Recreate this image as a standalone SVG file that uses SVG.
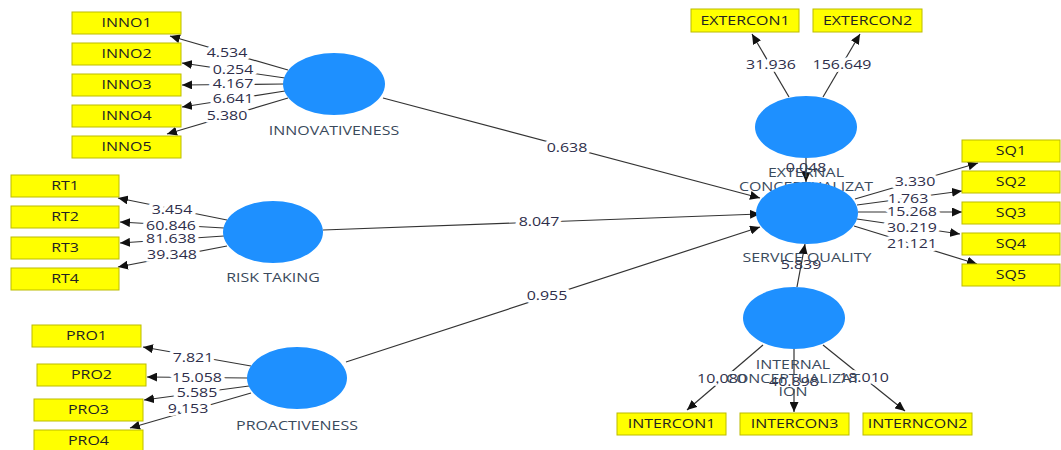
<svg xmlns="http://www.w3.org/2000/svg" width="1061" height="450" viewBox="0 0 1061 450">
<style>
  .ln{stroke:#333;stroke-width:1.2;fill:none;marker-end:url(#ah)}
  .num{font-family:"Open Sans","Liberation Sans",sans-serif;font-size:12px;fill:#2e2e4a;text-anchor:middle;stroke:#fff;stroke-width:6;paint-order:stroke;stroke-linejoin:round}
  .num.clear{stroke:none}
  .lat{fill:#1e90ff}
  .lbl{font-family:"Open Sans","Liberation Sans",sans-serif;font-size:12px;fill:#3a4a5c;text-anchor:middle}
  .box{fill:#ffff00;stroke:#bcbc00;stroke-width:1}
  .btx{font-family:"Open Sans","Liberation Sans",sans-serif;font-size:12px;fill:#222;text-anchor:middle}
</style>
<defs>
  <marker id="ah" viewBox="0 0 10 9" refX="10" refY="4.5" markerWidth="10" markerHeight="9" markerUnits="userSpaceOnUse" orient="auto">
    <path d="M0,0 L10,4.5 L0,9 z" fill="#111"/>
  </marker>
</defs>
<rect width="1061" height="450" fill="#fff"/>

<g id="connectors">
  <path class="ln" d="M288,70 L170,36"/>
  <path class="ln" d="M285,78 L182,63"/>
  <path class="ln" d="M284,84 L182,85"/>
  <path class="ln" d="M285,91 L182,107"/>
  <path class="ln" d="M288,98 L167,134"/>
  <path class="ln" d="M227,220 L118,198"/>
  <path class="ln" d="M224,228 L120,222"/>
  <path class="ln" d="M224,236 L120,243"/>
  <path class="ln" d="M227,246 L118,267"/>
  <path class="ln" d="M251,366 L143,347"/>
  <path class="ln" d="M248,378 L147,377"/>
  <path class="ln" d="M249,386 L144,400"/>
  <path class="ln" d="M251,393 L130,428"/>
  <path class="ln" d="M789,97 L752,34"/>
  <path class="ln" d="M823,97 L860,34"/>
  <path class="ln" d="M855,199 L978,163"/>
  <path class="ln" d="M857,205 L962,191"/>
  <path class="ln" d="M858,212 L962,212"/>
  <path class="ln" d="M857,219 L960,234"/>
  <path class="ln" d="M854,226 L977,264"/>
  <path class="ln" d="M763,345 L687,410"/>
  <path class="ln" d="M794,349 L794,412"/>
  <path class="ln" d="M823,345 L905,411"/>
  <path class="ln" d="M383,98 L760,198"/>
  <path class="ln" d="M323,230 L760,214"/>
  <path class="ln" d="M346,362 L760,227"/>

  <text class="num" transform="translate(227,57) scale(1.33,1)">4.534</text>
  <text class="num" transform="translate(233,74) scale(1.33,1)">0.254</text>
  <text class="num" transform="translate(233,88) scale(1.33,1)">4.167</text>
  <text class="num" transform="translate(233,103) scale(1.33,1)">6.641</text>
  <text class="num" transform="translate(227,120) scale(1.33,1)">5.380</text>
  <text class="num" transform="translate(172,214) scale(1.33,1)">3.454</text>
  <text class="num" transform="translate(171,230) scale(1.33,1)">60.846</text>
  <text class="num" transform="translate(171,243) scale(1.33,1)">81.638</text>
  <text class="num" transform="translate(172,259) scale(1.33,1)">39.348</text>
  <text class="num" transform="translate(193,362) scale(1.33,1)">7.821</text>
  <text class="num" transform="translate(197,382) scale(1.33,1)">15.058</text>
  <text class="num" transform="translate(197,397) scale(1.33,1)">5.585</text>
  <text class="num" transform="translate(188,413) scale(1.33,1)">9.153</text>
  <text class="num" transform="translate(771,69) scale(1.33,1)">31.936</text>
  <text class="num" transform="translate(842,69) scale(1.33,1)">156.649</text>
  <text class="num" transform="translate(915,186) scale(1.33,1)">3.330</text>
  <text class="num" transform="translate(908,203) scale(1.33,1)">1.763</text>
  <text class="num" transform="translate(912,216) scale(1.33,1)">15.268</text>
  <text class="num" transform="translate(912,232) scale(1.33,1)">30.219</text>
  <text class="num" transform="translate(912,248) scale(1.33,1)">21.121</text>
  <text class="num" transform="translate(722,383) scale(1.33,1)">10.080</text>
  <text class="num" transform="translate(794,386) scale(1.33,1)">40.898</text>
  <text class="num" transform="translate(864,382) scale(1.33,1)">18.010</text>
  <text class="num" transform="translate(567,152) scale(1.33,1)">0.638</text>
  <text class="num" transform="translate(539,226) scale(1.33,1)">8.047</text>
  <text class="num" transform="translate(547,300) scale(1.33,1)">0.955</text>
  <text class="num clear" transform="translate(806,172) scale(1.33,1)">0.048</text>
  <text class="num clear" transform="translate(801,269) scale(1.33,1)">5.839</text>
  <path class="ln" d="M806,158 L806,182"/>
  <path class="ln" d="M797,287 L805,244"/>
</g>

<g id="innovativeness">
  <ellipse class="lat" cx="334" cy="84" rx="51" ry="31"/>
  <text class="lbl" transform="translate(334,135) scale(1.33,1)">INNOVATIVENESS</text>
</g>
<g id="risk-taking">
  <ellipse class="lat" cx="273" cy="232" rx="50" ry="31"/>
  <text class="lbl" transform="translate(273,282) scale(1.33,1)">RISK TAKING</text>
</g>
<g id="proactiveness">
  <ellipse class="lat" cx="297" cy="378" rx="50" ry="31"/>
  <text class="lbl" transform="translate(297,430) scale(1.33,1)">PROACTIVENESS</text>
</g>
<g id="external-conceptualization">
  <ellipse class="lat" cx="806" cy="127" rx="51" ry="31"/>
  <text class="lbl" transform="translate(806,177) scale(1.33,1)">EXTERNAL</text>
  <text class="lbl" transform="translate(806,191) scale(1.33,1)">CONCEPTUALIZAT</text>
</g>
<g id="service-quality">
  <ellipse class="lat" cx="807" cy="213" rx="51" ry="31"/>
  <text class="lbl" transform="translate(807,262) scale(1.33,1)">SERVICE QUALITY</text>
</g>
<g id="internal-conceptualization">
  <ellipse class="lat" cx="794" cy="318" rx="51" ry="31"/>
  <text class="lbl" transform="translate(793,369) scale(1.33,1)">INTERNAL</text>
  <text class="lbl" transform="translate(793,383) scale(1.33,1)">CONCEPTUALIZAT</text>
  <text class="lbl" transform="translate(793,396) scale(1.33,1)">ION</text>
</g>

<g id="INNO1"><rect class="box" x="72" y="12" width="109" height="22"/><text class="btx" transform="translate(126.5,27.3) scale(1.33,1)">INNO1</text></g>
<g id="INNO2"><rect class="box" x="72" y="43" width="109" height="22"/><text class="btx" transform="translate(126.5,58.3) scale(1.33,1)">INNO2</text></g>
<g id="INNO3"><rect class="box" x="72" y="74" width="109" height="22"/><text class="btx" transform="translate(126.5,89.3) scale(1.33,1)">INNO3</text></g>
<g id="INNO4"><rect class="box" x="72" y="105" width="109" height="22"/><text class="btx" transform="translate(126.5,120.3) scale(1.33,1)">INNO4</text></g>
<g id="INNO5"><rect class="box" x="72" y="136" width="109" height="22"/><text class="btx" transform="translate(126.5,151.3) scale(1.33,1)">INNO5</text></g>

<g id="RT1"><rect class="box" x="11" y="175" width="108" height="22"/><text class="btx" transform="translate(65,190.3) scale(1.33,1)">RT1</text></g>
<g id="RT2"><rect class="box" x="11" y="206" width="108" height="22"/><text class="btx" transform="translate(65,221.3) scale(1.33,1)">RT2</text></g>
<g id="RT3"><rect class="box" x="11" y="237" width="108" height="22"/><text class="btx" transform="translate(65,252.3) scale(1.33,1)">RT3</text></g>
<g id="RT4"><rect class="box" x="11" y="268" width="108" height="22"/><text class="btx" transform="translate(65,283.3) scale(1.33,1)">RT4</text></g>

<g id="PRO1"><rect class="box" x="32" y="325" width="109" height="22"/><text class="btx" transform="translate(86.5,340.3) scale(1.33,1)">PRO1</text></g>
<g id="PRO2"><rect class="box" x="37" y="364" width="109" height="22"/><text class="btx" transform="translate(91.5,379.3) scale(1.33,1)">PRO2</text></g>
<g id="PRO3"><rect class="box" x="34" y="399" width="109" height="22"/><text class="btx" transform="translate(88.5,414.3) scale(1.33,1)">PRO3</text></g>
<g id="PRO4"><rect class="box" x="34" y="430" width="109" height="22"/><text class="btx" transform="translate(88.5,445.3) scale(1.33,1)">PRO4</text></g>

<g id="EXTERCON1"><rect class="box" x="691" y="9" width="108" height="23"/><text class="btx" transform="translate(745,24.8) scale(1.33,1)">EXTERCON1</text></g>
<g id="EXTERCON2"><rect class="box" x="813" y="9" width="109" height="23"/><text class="btx" transform="translate(867.5,24.8) scale(1.33,1)">EXTERCON2</text></g>

<g id="SQ1"><rect class="box" x="962" y="140" width="98" height="22"/><text class="btx" transform="translate(1011,155.3) scale(1.33,1)">SQ1</text></g>
<g id="SQ2"><rect class="box" x="962" y="171" width="98" height="22"/><text class="btx" transform="translate(1011,186.3) scale(1.33,1)">SQ2</text></g>
<g id="SQ3"><rect class="box" x="962" y="202" width="98" height="22"/><text class="btx" transform="translate(1011,217.3) scale(1.33,1)">SQ3</text></g>
<g id="SQ4"><rect class="box" x="962" y="233" width="98" height="22"/><text class="btx" transform="translate(1011,248.3) scale(1.33,1)">SQ4</text></g>
<g id="SQ5"><rect class="box" x="962" y="264" width="98" height="22"/><text class="btx" transform="translate(1011,279.3) scale(1.33,1)">SQ5</text></g>

<g id="INTERCON1"><rect class="box" x="617" y="413" width="109" height="22"/><text class="btx" transform="translate(671.5,428.3) scale(1.33,1)">INTERCON1</text></g>
<g id="INTERCON3"><rect class="box" x="740" y="413" width="109" height="22"/><text class="btx" transform="translate(794.5,428.3) scale(1.33,1)">INTERCON3</text></g>
<g id="INTERNCON2"><rect class="box" x="863" y="413" width="109" height="22"/><text class="btx" transform="translate(917.5,428.3) scale(1.33,1)">INTERNCON2</text></g>
</svg>
